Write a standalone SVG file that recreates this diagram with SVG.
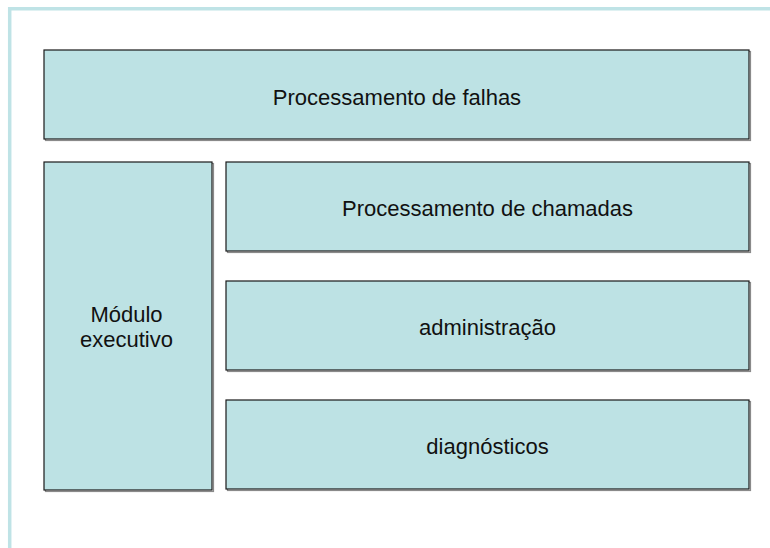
<svg xmlns="http://www.w3.org/2000/svg" width="770" height="548" viewBox="0 0 770 548">
  <style>
    .box { fill: #bde2e4; stroke: #1a1a1a; stroke-width: 1.2; }
    .shadow { fill: none; stroke: #8a8a8a; stroke-width: 1.2; }
    .lbl { font-family: "Liberation Sans", Arial, sans-serif; font-size: 22px; fill: #111; text-anchor: middle; }
    .frame { fill: none; stroke: #bfe3e6; stroke-width: 3.5; }
  </style>
  <rect width="770" height="548" fill="#ffffff"/>
  <path class="frame" d="M9.7 548 V8.7 H770"/>
  <g id="falhas">
    <rect class="shadow" x="45.5" y="51.5" width="705" height="89"/>
    <rect class="box" x="44" y="50" width="705" height="89"/>
    <text class="lbl" x="397" y="104.5">Processamento de falhas</text>
  </g>
  <g id="modulo">
    <rect class="shadow" x="45.5" y="163.5" width="168" height="328"/>
    <rect class="box" x="44" y="162" width="168" height="328"/>
    <text class="lbl" x="126.5" y="322">Módulo</text>
    <text class="lbl" x="126.5" y="346.5">executivo</text>
  </g>
  <g id="chamadas">
    <rect class="shadow" x="227.5" y="163.5" width="523" height="89"/>
    <rect class="box" x="226" y="162" width="523" height="89"/>
    <text class="lbl" x="487.5" y="216">Processamento de chamadas</text>
  </g>
  <g id="administracao">
    <rect class="shadow" x="227.5" y="282.5" width="523" height="89"/>
    <rect class="box" x="226" y="281" width="523" height="89"/>
    <text class="lbl" x="487.5" y="335">administração</text>
  </g>
  <g id="diagnosticos">
    <rect class="shadow" x="227.5" y="401.5" width="523" height="89"/>
    <rect class="box" x="226" y="400" width="523" height="89"/>
    <text class="lbl" x="487.5" y="454">diagnósticos</text>
  </g>
  <g id="connectors"></g>
</svg>
